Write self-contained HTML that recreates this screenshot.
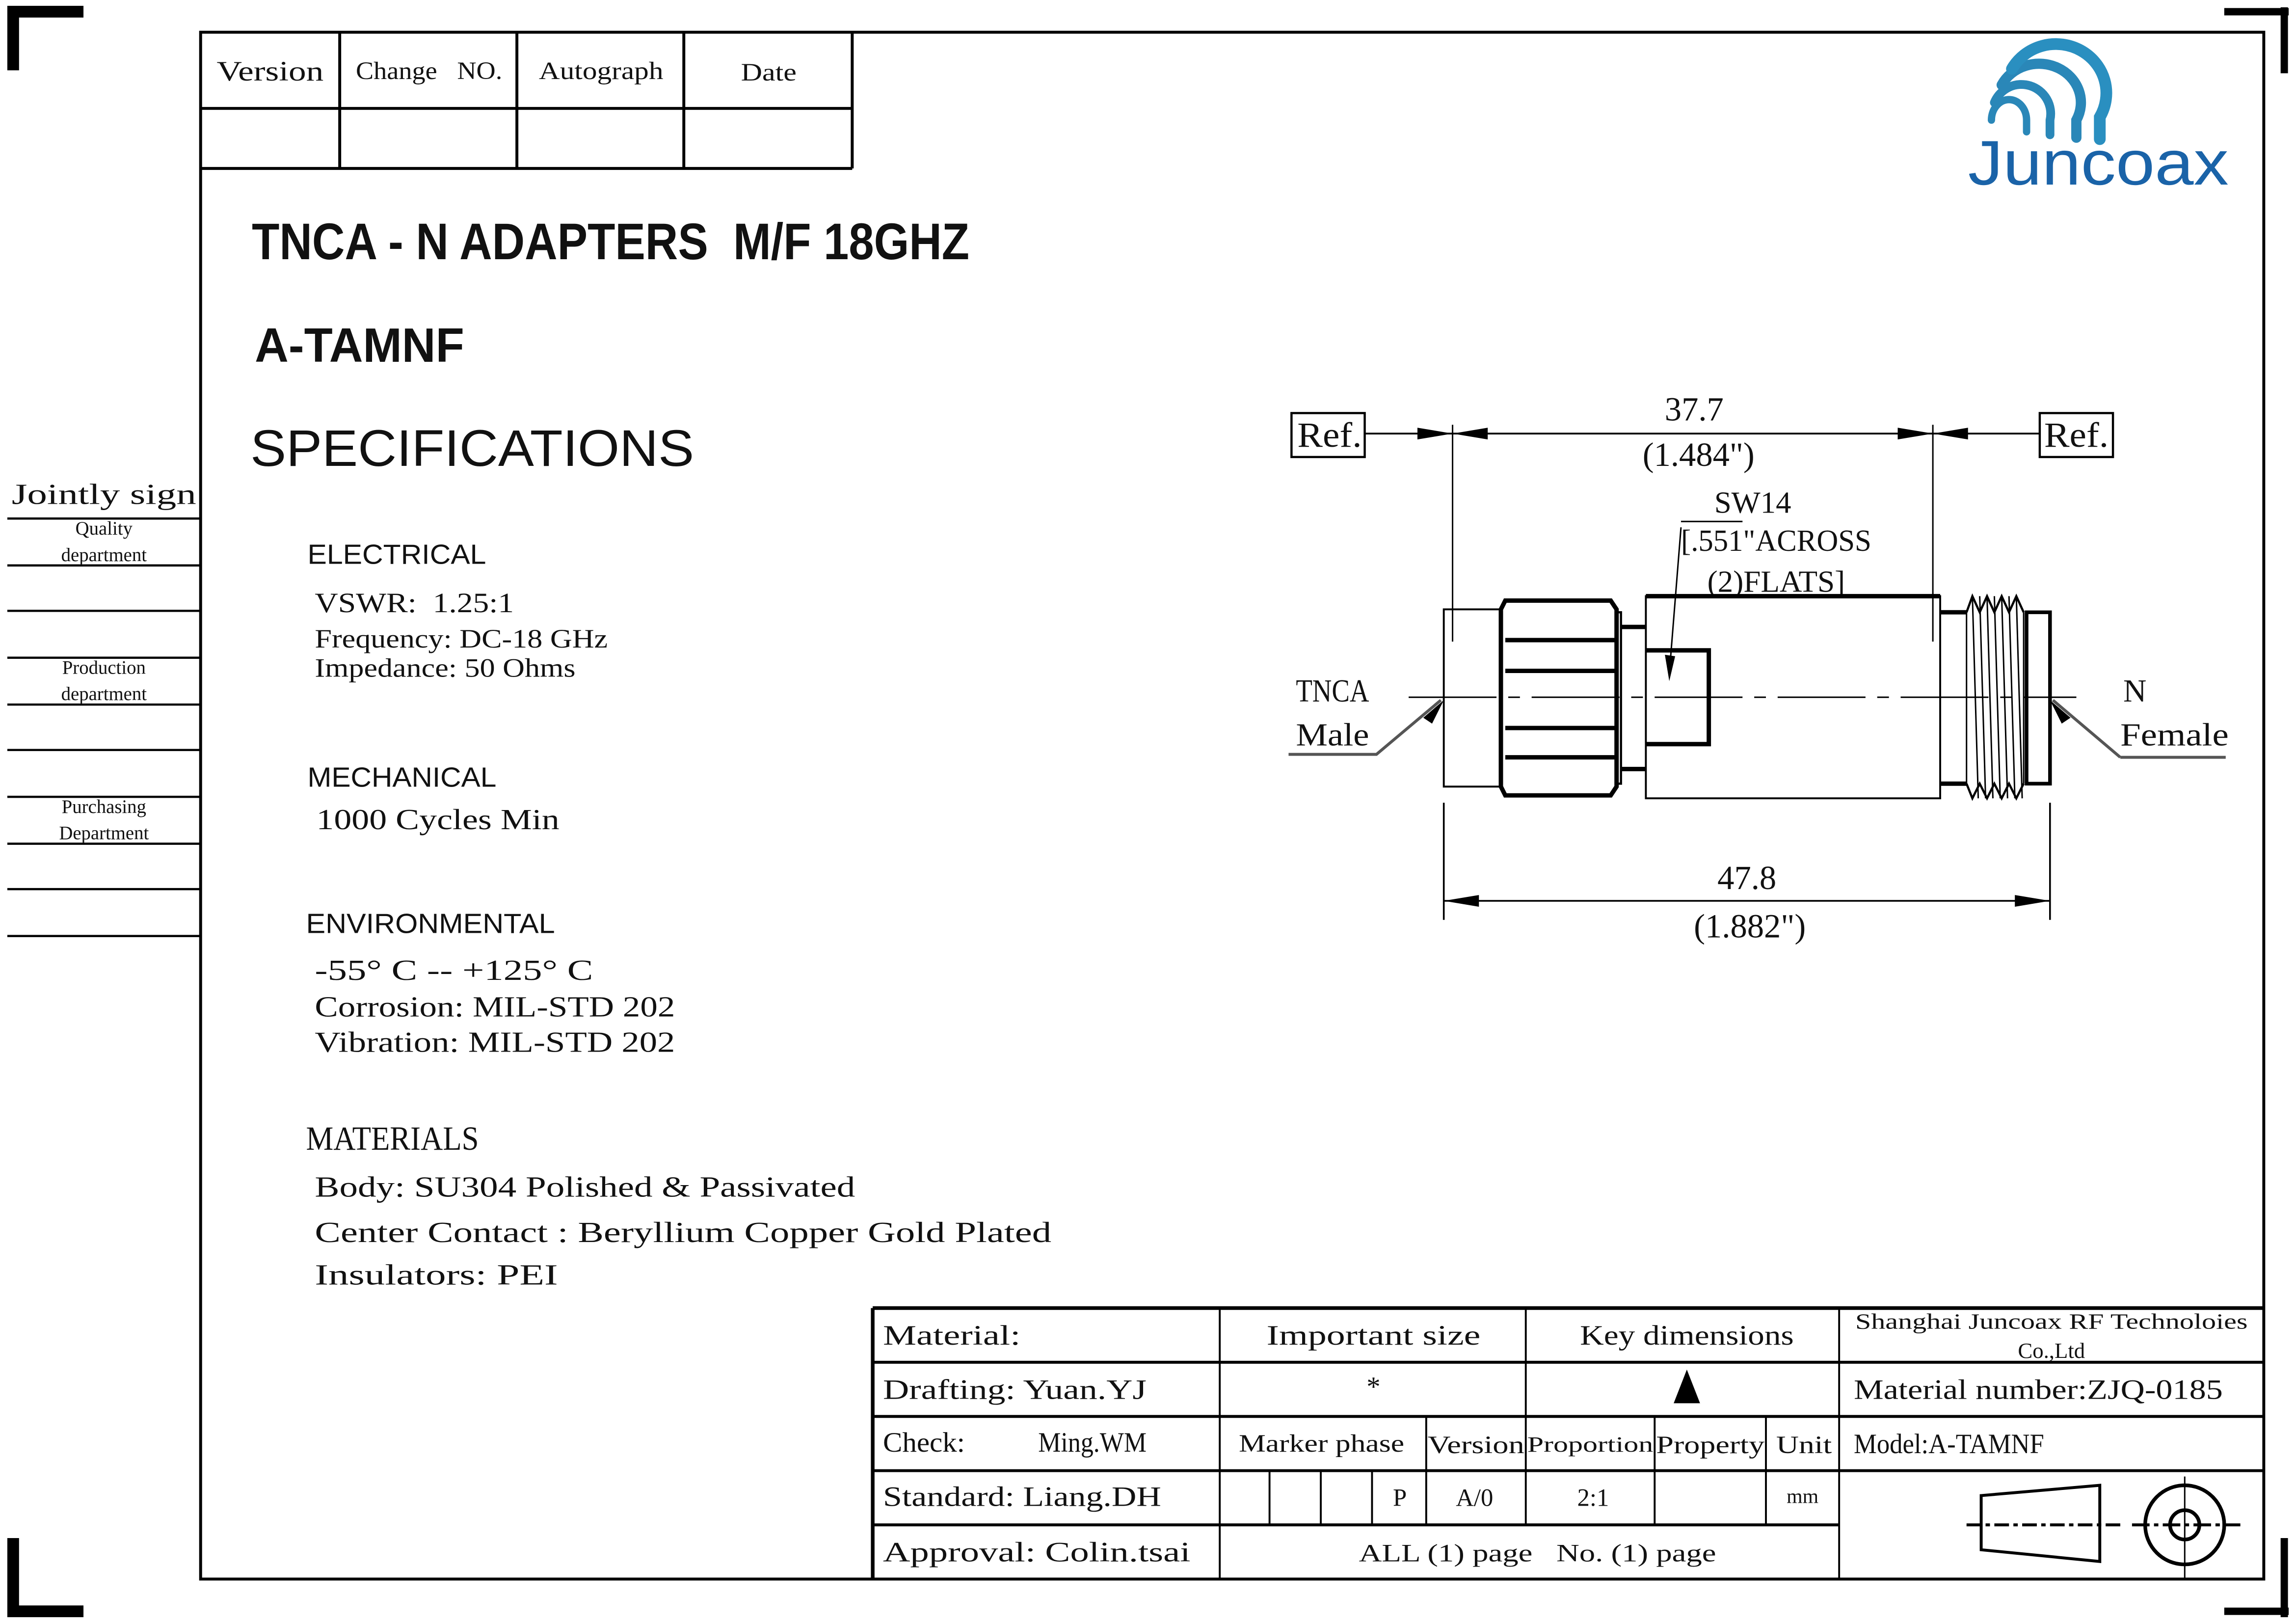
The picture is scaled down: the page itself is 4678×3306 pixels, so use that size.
<!DOCTYPE html>
<html><head><meta charset="utf-8"><style>html,body{margin:0;padding:0;background:#fff}svg{display:block}text{white-space:pre}</style></head>
<body>
<svg xmlns="http://www.w3.org/2000/svg" width="4678" height="3306" viewBox="0 0 1568 1108" preserveAspectRatio="none">
<rect width="1568" height="1108" fill="#fff"/>
<g fill="none" stroke="#000">
<path d="M9,5 V48 M5,8 H57" stroke-width="8"/>
<path d="M1519,8 H1563 M1560,5 V50" stroke-width="5"/>
<path d="M9,1050 V1104 M5,1100 H57" stroke-width="8"/>
<path d="M1519,1100 H1563 M1560,1050 V1104" stroke-width="5"/>
<rect x="137" y="22" width="1409" height="1056" stroke-width="2"/>
<path d="M137,74 H582 M137,115 H582 M582,22 V115 M232,22 V115 M353,22 V115 M467,22 V115" stroke-width="2"/>
<path d="M5,354H137 M5,386H137 M5,417H137 M5,449H137 M5,481H137 M5,512H137 M5,544H137 M5,576H137 M5,607H137 M5,639H137" stroke-width="1.5"/>
<path d="M596,893 H1546 M596,893 V1078" stroke-width="2.5"/>
<path d="M596,930 H1546 M596,967 H1546 M596,1004 H1546 M596,1041 H1256" stroke-width="2"/>
<path d="M833,893 V1078 M1042,893 V1041 M1256,893 V1078" stroke-width="1.3"/>
<path d="M974,967 V1041 M1130,967 V1041 M1206,967 V1041 M867,1004 V1041 M902,1004 V1041 M937,1004 V1041" stroke-width="1.3"/>
</g>
<g stroke="#000" fill="none">
<path d="M1353,1021 L1434,1014 V1066 L1353,1058 Z" stroke-width="2"/>
<path d="M1343,1041 H1448" stroke-width="2" stroke-dasharray="10,3,3,3"/>
<circle cx="1492" cy="1041" r="27" stroke-width="2.5"/>
<circle cx="1492" cy="1041" r="10" stroke-width="2.5"/>
<path d="M1456,1041 H1530" stroke-width="2" stroke-dasharray="12,3,3,3"/>
<path d="M1492,1008 V1078" stroke-width="1"/>
</g>
<polygon points="1152,935 1143,958 1161,958" fill="#000"/>

<g font-family="'Liberation Serif','Noto Serif CJK SC',serif" fill="#111">
<text x="148" y="55" font-size="19" textLength="73" lengthAdjust="spacingAndGlyphs">Version</text>
<text x="243" y="54" font-size="17" textLength="100" lengthAdjust="spacingAndGlyphs">Change   NO.</text>
<text x="368" y="54" font-size="17" textLength="85" lengthAdjust="spacingAndGlyphs">Autograph</text>
<text x="506" y="55" font-size="17" textLength="38" lengthAdjust="spacingAndGlyphs">Date</text>
<text x="8" y="344" font-size="20" textLength="126" lengthAdjust="spacingAndGlyphs">Jointly sign</text>
<text x="71" y="365" font-size="13" text-anchor="middle">Quality</text>
<text x="71" y="383" font-size="13" text-anchor="middle">department</text>
<text x="71" y="460" font-size="13" text-anchor="middle">Production</text>
<text x="71" y="478" font-size="13" text-anchor="middle">department</text>
<text x="71" y="555" font-size="13" text-anchor="middle">Purchasing</text>
<text x="71" y="573" font-size="13" text-anchor="middle">Department</text>

<text x="215" y="418" font-size="19" textLength="136" lengthAdjust="spacingAndGlyphs">VSWR:  1.25:1</text>
<text x="215" y="442" font-size="18" textLength="200" lengthAdjust="spacingAndGlyphs">Frequency: DC-18 GHz</text>
<text x="215" y="462" font-size="18" textLength="178" lengthAdjust="spacingAndGlyphs">Impedance: 50 Ohms</text>
<text x="216" y="566" font-size="20" textLength="166" lengthAdjust="spacingAndGlyphs">1000 Cycles Min</text>
<text x="215" y="669" font-size="20" textLength="190" lengthAdjust="spacingAndGlyphs">-55° C -- +125° C</text>
<text x="215" y="694" font-size="20" textLength="246" lengthAdjust="spacingAndGlyphs">Corrosion: MIL-STD 202</text>
<text x="215" y="718" font-size="20" textLength="246" lengthAdjust="spacingAndGlyphs">Vibration: MIL-STD 202</text>
<text x="209" y="785" font-size="23" textLength="118" lengthAdjust="spacingAndGlyphs">MATERIALS</text>
<text x="215" y="817" font-size="20" textLength="369" lengthAdjust="spacingAndGlyphs">Body: SU304 Polished &amp; Passivated</text>
<text x="215" y="848" font-size="20" textLength="503" lengthAdjust="spacingAndGlyphs">Center Contact : Beryllium Copper Gold Plated</text>
<text x="215" y="877" font-size="20" textLength="166" lengthAdjust="spacingAndGlyphs">Insulators: PEI</text>

<text x="886" y="305" font-size="24" textLength="44" lengthAdjust="spacingAndGlyphs">Ref.</text>
<text x="1396" y="305" font-size="24" textLength="44" lengthAdjust="spacingAndGlyphs">Ref.</text>
<text x="1157" y="287" font-size="23" text-anchor="middle">37.7</text>
<text x="1160" y="318" font-size="23" text-anchor="middle">(1.484")</text>
<text x="1197" y="350" font-size="21" text-anchor="middle">SW14</text>
<text x="1148" y="376" font-size="21" textLength="130" lengthAdjust="spacingAndGlyphs">[.551"ACROSS</text>
<text x="1166" y="404" font-size="21" textLength="94" lengthAdjust="spacingAndGlyphs">(2)FLATS]</text>
<text x="885" y="479" font-size="22" textLength="50" lengthAdjust="spacingAndGlyphs">TNCA</text>
<text x="885" y="509" font-size="22" textLength="50" lengthAdjust="spacingAndGlyphs">Male</text>
<text x="1450" y="479" font-size="22">N</text>
<text x="1448" y="509" font-size="22" textLength="74" lengthAdjust="spacingAndGlyphs">Female</text>
<text x="1193" y="607" font-size="23" text-anchor="middle">47.8</text>
<text x="1195" y="640" font-size="23" text-anchor="middle">(1.882")</text>

<text x="603" y="918" font-size="19" textLength="94" lengthAdjust="spacingAndGlyphs">Material:</text>
<text x="938" y="918" font-size="19" text-anchor="middle" textLength="146" lengthAdjust="spacingAndGlyphs">Important size</text>
<text x="1152" y="918" font-size="19" text-anchor="middle" textLength="146" lengthAdjust="spacingAndGlyphs">Key dimensions</text>
<text x="1401" y="907" font-size="15" text-anchor="middle" textLength="268" lengthAdjust="spacingAndGlyphs">Shanghai Juncoax RF Technoloies</text>
<text x="1401" y="927" font-size="15" text-anchor="middle">Co.,Ltd</text>
<text x="603" y="955" font-size="19" textLength="180" lengthAdjust="spacingAndGlyphs">Drafting: Yuan.YJ</text>
<text x="938" y="953" font-size="19" text-anchor="middle">*</text>
<text x="1266" y="955" font-size="19" textLength="252" lengthAdjust="spacingAndGlyphs">Material number:ZJQ-0185</text>
<text x="603" y="991" font-size="19" textLength="56" lengthAdjust="spacingAndGlyphs">Check:</text>
<text x="709" y="991" font-size="19" textLength="74" lengthAdjust="spacingAndGlyphs">Ming.WM</text>
<text x="846" y="991" font-size="17" textLength="113" lengthAdjust="spacingAndGlyphs">Marker phase</text>
<text x="975" y="992" font-size="17" textLength="66" lengthAdjust="spacingAndGlyphs">Version</text>
<text x="1043" y="991" font-size="15" textLength="86" lengthAdjust="spacingAndGlyphs">Proportion</text>
<text x="1131" y="992" font-size="17" textLength="74" lengthAdjust="spacingAndGlyphs">Property</text>
<text x="1213" y="992" font-size="17" textLength="38" lengthAdjust="spacingAndGlyphs">Unit</text>
<text x="1266" y="992" font-size="19" textLength="130" lengthAdjust="spacingAndGlyphs">Model:A-TAMNF</text>
<text x="603" y="1028" font-size="19" textLength="190" lengthAdjust="spacingAndGlyphs">Standard: Liang.DH</text>
<text x="956" y="1028" font-size="17" text-anchor="middle">P</text>
<text x="1007" y="1028" font-size="17" text-anchor="middle">A/0</text>
<text x="1088" y="1028" font-size="17" text-anchor="middle">2:1</text>
<text x="1231" y="1026" font-size="14" text-anchor="middle">mm</text>
<text x="603" y="1066" font-size="19" textLength="210" lengthAdjust="spacingAndGlyphs">Approval: Colin.tsai</text>
<text x="1050" y="1066" font-size="17" text-anchor="middle" textLength="244" lengthAdjust="spacingAndGlyphs">ALL (1) page   No. (1) page</text>
</g>

<g font-family="'Liberation Sans',sans-serif" fill="#111">
<text x="172" y="177" font-size="35" font-weight="bold" textLength="490" lengthAdjust="spacingAndGlyphs">TNCA - N ADAPTERS  M/F 18GHZ</text>
<text x="174" y="247" font-size="33" font-weight="bold" textLength="143" lengthAdjust="spacingAndGlyphs">A-TAMNF</text>
<text x="171" y="318" font-size="35" textLength="303" lengthAdjust="spacingAndGlyphs">SPECIFICATIONS</text>
<text x="210" y="385" font-size="19" textLength="122" lengthAdjust="spacingAndGlyphs">ELECTRICAL</text>
<text x="210" y="537" font-size="19" textLength="129" lengthAdjust="spacingAndGlyphs">MECHANICAL</text>
<text x="209" y="637" font-size="19" textLength="170" lengthAdjust="spacingAndGlyphs">ENVIRONMENTAL</text>
</g>

<g fill="none" stroke-linecap="round">
<path d="M1360,82 A12,14 0 0 1 1384,82 V90" stroke="#2a87b8" stroke-width="5"/>
<path d="M1362,70 A20,20 0 0 1 1400,82 V92" stroke="#2a87b8" stroke-width="6"/>
<path d="M1367,58 A27,25 0 0 1 1418,82 V94" stroke="#2a87b8" stroke-width="7"/>
<path d="M1374,47 A33,32 0 0 1 1434,80 V95" stroke="#2a8fc0" stroke-width="8"/>
</g>
<text x="1344" y="126" font-family="'Liberation Sans',sans-serif" font-size="43" fill="#1a63a8" textLength="178" lengthAdjust="spacingAndGlyphs">Juncoax</text>

<g stroke="#000" fill="none">
<rect x="882" y="282" width="50" height="30" stroke-width="1.5"/>
<rect x="1393" y="282" width="50" height="30" stroke-width="1.5"/>
<path d="M932,296 H1393" stroke-width="1.2"/>
<path d="M992,290 V438 M1320,290 V438" stroke-width="1"/>
<path d="M1148,356 H1190" stroke-width="1"/>
<path d="M1148,360 L1140,460" stroke-width="1"/>
<rect x="986" y="416" width="39" height="121" stroke-width="1.3"/>
<path d="M1028,410 H1100 L1104,416 V537 L1100,543 H1028 L1025,537 V416 Z" stroke-width="3"/>
<path d="M1028,437 H1103 M1028,458 H1103 M1028,497 H1103 M1028,517 H1103" stroke-width="3"/>
<rect x="1104" y="418" width="3" height="117" stroke-width="1.5"/>
<path d="M1107,428 H1124 M1107,525 H1124" stroke-width="3"/>
<rect x="1124" y="407" width="201" height="138" stroke-width="1.3"/>
<path d="M1124,407 H1325" stroke-width="3"/>
<path d="M1124,444 H1167 V508 H1124" stroke-width="3"/>
<path d="M1325,418 H1343 M1325,535 H1343" stroke-width="3"/>
<path d="M1343,418 L1347,407 L1352,418 L1357,407 L1362,418 L1367,407 L1372,418 L1377,407 L1382,418" stroke-width="1.5"/>
<path d="M1343,535 L1347,545 L1352,535 L1357,545 L1362,535 L1367,545 L1372,535 L1377,545 L1382,535" stroke-width="1.5"/>
<path d="M1343,418 V535 M1347,407 L1351,545 M1352,407 L1356,545 M1357,407 L1361,545 M1362,407 L1366,545 M1367,407 L1371,545 M1372,407 L1376,545 M1377,407 L1381,545 M1382,418 V535" stroke-width="1"/>
<rect x="1384" y="418" width="16" height="117" stroke-width="2.5"/>
<path d="M962,476 H1418" stroke-width="1" stroke-dasharray="60,8,8,8"/>
<path d="M880,515 H940 L984,478" stroke="#555" stroke-width="2"/>
<path d="M1448,517 H1520 M1448,517 L1402,478" stroke="#555" stroke-width="2"/>
<path d="M986,548 V628 M1400,548 V628 M986,615 H1400" stroke-width="1.2"/>
</g>
<g fill="#000">
<polygon points="992,296 968,292 968,300"/>
<polygon points="992,296 1016,292 1016,300"/>
<polygon points="1320,296 1296,292 1296,300"/>
<polygon points="1320,296 1344,292 1344,300"/>
<polygon points="1140,465 1137,447 1144,448"/>
<polygon points="986,478 972,490 978,494"/>
<polygon points="1400,478 1408,494 1414,490"/>
<polygon points="986,615 1010,611 1010,619"/>
<polygon points="1400,615 1376,611 1376,619"/>
</g>
</svg>
</body></html>
